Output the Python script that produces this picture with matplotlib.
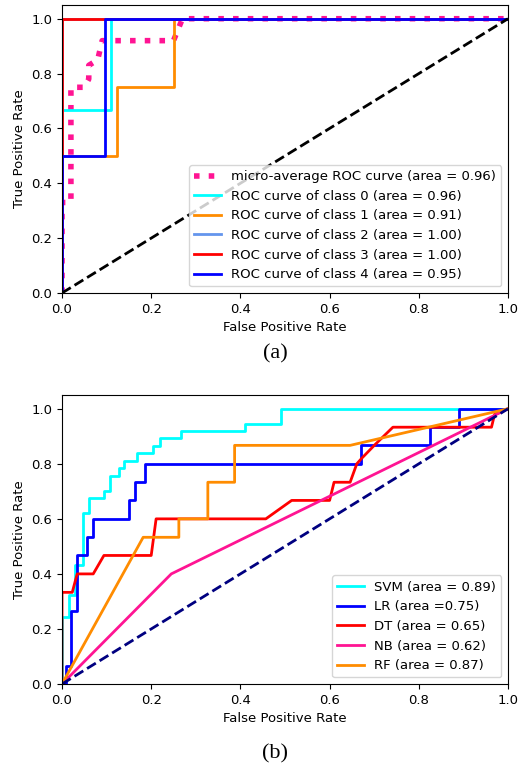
import matplotlib
matplotlib.use("Agg")
import matplotlib.pyplot as plt

plt.rcParams["font.size"] = 9.5

# ---- Panel (a): multi-class ROC ----
micro_fpr = [0.0, 0.0, 0.02, 0.02, 0.05, 0.06, 0.06, 0.08, 0.09, 0.25, 0.27, 1.0]
micro_tpr = [0.0, 0.33, 0.33, 0.75, 0.75, 0.78, 0.83, 0.85, 0.92, 0.92, 1.0, 1.0]
micro_auc = 0.96

class_fpr = [
    [0.0, 0.0, 0.11, 0.11, 1.0],
    [0.0, 0.0, 0.124, 0.124, 0.25, 0.25, 1.0],
    [0.0, 0.0, 1.0],
    [0.0, 0.0, 1.0],
    [0.0, 0.0, 0.097, 0.097, 1.0],
]
class_tpr = [
    [0.0, 0.667, 0.667, 1.0, 1.0],
    [0.0, 0.5, 0.5, 0.75, 0.75, 1.0, 1.0],
    [0.0, 1.0, 1.0],
    [0.0, 1.0, 1.0],
    [0.0, 0.5, 0.5, 1.0, 1.0],
]
class_auc = [0.96, 0.91, 1.00, 1.00, 0.95]
class_colors = ["aqua", "darkorange", "cornflowerblue", "red", "blue"]

# ---- Panel (b): classifier comparison ----
model_names = ["SVM", "LR", "DT", "NB", "RF"]
model_labels = ["SVM (area = 0.89)", "LR (area =0.75)", "DT (area = 0.65)",
                "NB (area = 0.62)", "RF (area = 0.87)"]
model_colors = ["aqua", "blue", "red", "deeppink", "darkorange"]

svm_fpr = [0.0, 0.0, 0.015, 0.015, 0.03, 0.03, 0.047, 0.047, 0.06, 0.06, 0.094, 0.094,
           0.108, 0.108, 0.127, 0.127, 0.14, 0.14, 0.168, 0.168, 0.203, 0.203, 0.219, 0.219,
           0.267, 0.267, 0.411, 0.411, 0.491, 0.491, 1.0]
svm_tpr = [0.0, 0.243, 0.243, 0.324, 0.324, 0.432, 0.432, 0.622, 0.622, 0.676, 0.676, 0.703,
           0.703, 0.757, 0.757, 0.784, 0.784, 0.811, 0.811, 0.838, 0.838, 0.865, 0.865, 0.892,
           0.892, 0.919, 0.919, 0.946, 0.946, 1.0, 1.0]

lr_fpr = [0.0, 0.01, 0.01, 0.021, 0.021, 0.034, 0.034, 0.056, 0.056, 0.07, 0.07, 0.15, 0.15,
          0.163, 0.163, 0.187, 0.187, 0.67, 0.67, 0.824, 0.824, 0.891, 0.891, 1.0]
lr_tpr = [0.0, 0.0, 0.067, 0.067, 0.267, 0.267, 0.467, 0.467, 0.533, 0.533, 0.6, 0.6, 0.667,
          0.667, 0.733, 0.733, 0.8, 0.8, 0.867, 0.867, 0.933, 0.933, 1.0, 1.0]

dt_fpr = [0.0, 0.0, 0.023, 0.034, 0.07, 0.094, 0.2, 0.211, 0.457, 0.515, 0.6, 0.61, 0.646,
          0.661, 0.672, 0.702, 0.742, 0.963, 0.97, 1.0]
dt_tpr = [0.0, 0.333, 0.333, 0.4, 0.4, 0.467, 0.467, 0.6, 0.6, 0.667, 0.667, 0.733, 0.733,
          0.8, 0.82, 0.87, 0.933, 0.933, 0.98, 1.0]

nb_fpr = [0.0, 0.245, 1.0]
nb_tpr = [0.0, 0.4, 1.0]

rf_fpr = [0.0, 0.182, 0.262, 0.262, 0.327, 0.327, 0.387, 0.387, 0.646, 1.0]
rf_tpr = [0.0, 0.533, 0.533, 0.6, 0.6, 0.733, 0.733, 0.867, 0.867, 1.0]

model_fpr = [svm_fpr, lr_fpr, dt_fpr, nb_fpr, rf_fpr]
model_tpr = [svm_tpr, lr_tpr, dt_tpr, nb_tpr, rf_tpr]

fig = plt.figure(figsize=(5.18, 7.69), dpi=100)

# Panel (a)
ax1 = fig.add_axes([62 / 518, 1 - 293 / 769, 446 / 518, 288 / 769])
ax1.plot(micro_fpr, micro_tpr, color="deeppink", linestyle=":", linewidth=4,
         label="micro-average ROC curve (area = {:.2f})".format(micro_auc))
for i in range(5):
    ax1.plot(class_fpr[i], class_tpr[i], color=class_colors[i], lw=2,
             label="ROC curve of class {} (area = {:.2f})".format(i, class_auc[i]))
ax1.plot([0, 1], [0, 1], "k--", lw=2)
ax1.set_xlim([0.0, 1.0])
ax1.set_ylim([0.0, 1.05])
ax1.set_xlabel("False Positive Rate")
ax1.set_ylabel("True Positive Rate")
ax1.legend(loc="lower right")

# Panel (b)
ax2 = fig.add_axes([62 / 518, 1 - 684 / 769, 446 / 518, 289 / 769])
for i in range(5):
    ax2.plot(model_fpr[i], model_tpr[i], color=model_colors[i], lw=2, label=model_labels[i])
ax2.plot([0, 1], [0, 1], color="navy", lw=2, linestyle="--")
ax2.set_xlim([0.0, 1.0])
ax2.set_ylim([0.0, 1.05])
ax2.set_xlabel("False Positive Rate")
ax2.set_ylabel("True Positive Rate")
ax2.legend(loc="lower right")

fig.text(275 / 518, 1 - 354 / 769, "(a)", ha="center", va="center",
         family="Liberation Serif", fontsize=16)
fig.text(275 / 518, 1 - 754 / 769, "(b)", ha="center", va="center",
         family="Liberation Serif", fontsize=16)

fig.savefig("out.png", dpi=100)
